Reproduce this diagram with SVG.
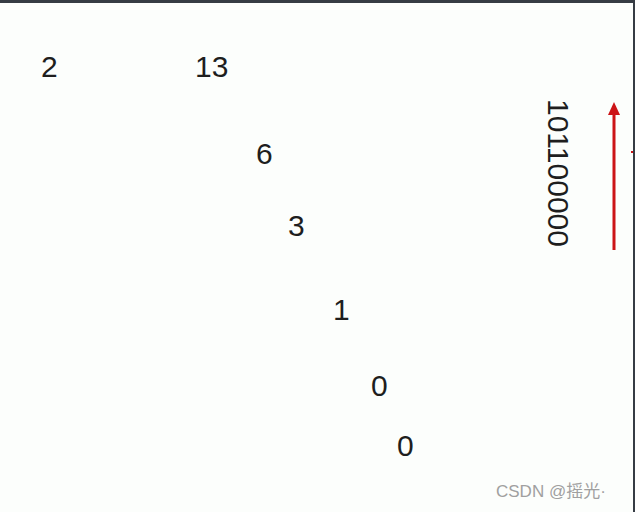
<svg xmlns="http://www.w3.org/2000/svg" width="635" height="512" viewBox="0 0 635 512">
<defs>
<style>
.n{font-family:"Liberation Sans",Arial,sans-serif;font-size:30px;fill:#1e1e1e}
.wm{font-family:"Liberation Sans","Noto Sans CJK SC",sans-serif;font-size:17px;fill:#a0a0a0}
</style>
<marker id="ah" markerWidth="13" markerHeight="12" refX="2" refY="6" orient="auto" markerUnits="userSpaceOnUse">
<path d="M0,0 L13,6 L0,12 Z" fill="#cc1417"/>
</marker>
</defs>
<rect x="0" y="0" width="635" height="512" fill="#fcfefc"/>
<rect x="0" y="0" width="635" height="3" fill="#363c44"/>
<rect x="633" y="0" width="2" height="512" fill="#363c44"/>
<g id="n2"><text class="n" x="41" y="77">2</text></g>
<g id="n13"><text class="n" x="195" y="77">13</text></g>
<g id="n6"><text class="n" x="256" y="164">6</text></g>
<g id="n3"><text class="n" x="288" y="236">3</text></g>
<g id="n1"><text class="n" x="333" y="320">1</text></g>
<g id="n0a"><text class="n" x="371" y="396">0</text></g>
<g id="n0b"><text class="n" x="397" y="456">0</text></g>
<g id="result"><text class="n" transform="translate(548,99) rotate(90)" x="0" y="0">101100000</text></g>
<g id="connectors">
<line x1="614" y1="250" x2="614" y2="113" stroke="#cc1417" stroke-width="3" marker-end="url(#ah)"/>
<rect x="631" y="151" width="2" height="2" fill="#cc1417"/>
</g>
<text class="wm" x="496" y="497">CSDN @摇光·</text>
</svg>
